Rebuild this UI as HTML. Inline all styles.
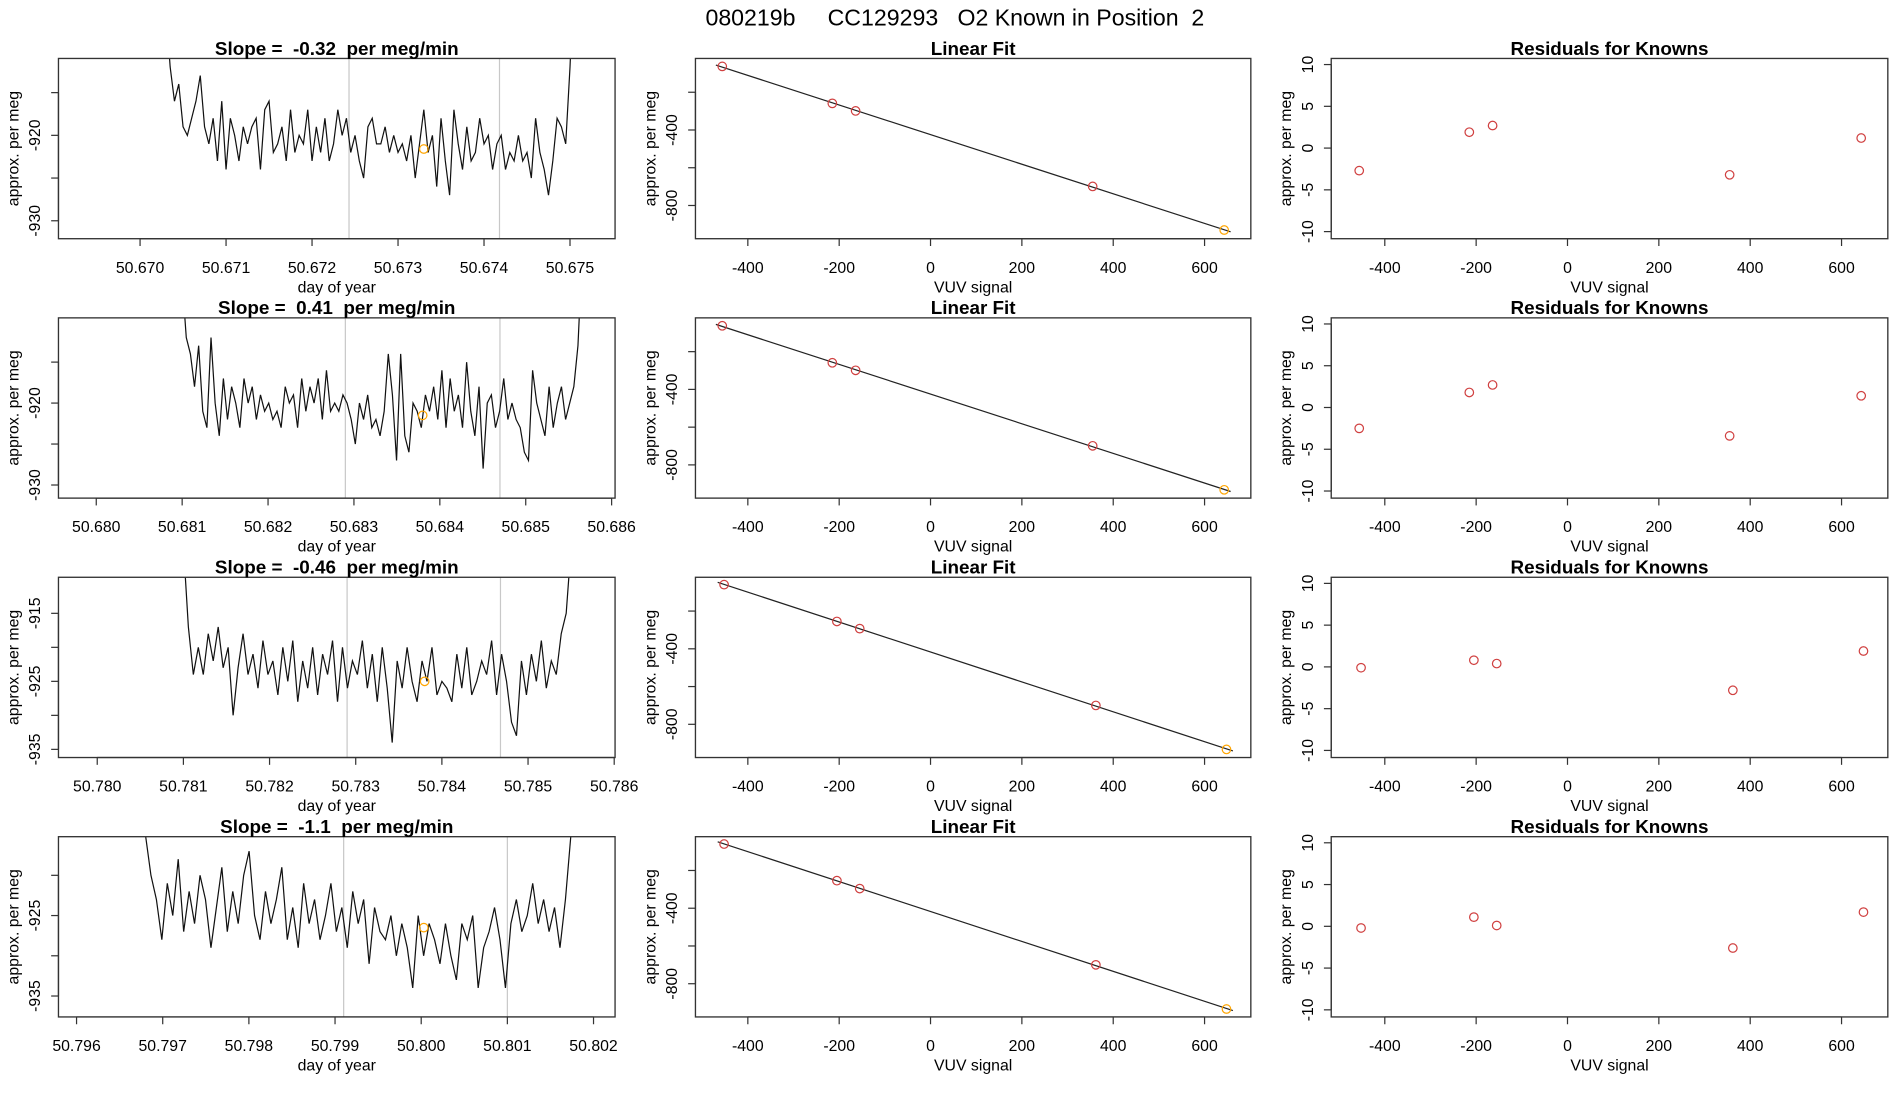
<!DOCTYPE html>
<html><head><meta charset="utf-8"><style>
html,body{margin:0;padding:0;background:#fff;}
svg{display:block;font-family:"Liberation Sans",sans-serif;}
text{white-space:pre;}
</style></head><body>
<svg id="chart" width="1900" height="1100" viewBox="0 0 1560 903.2" preserveAspectRatio="none" xmlns="http://www.w3.org/2000/svg">
<text x="784" y="21" font-size="19" text-anchor="middle" xml:space="preserve">080219b     CC129293   O2 Known in Position  2</text>
<g id="plots"></g>
</svg>
<script>
// ---- data ----
const slopeLabels = ["-0.32", "0.41", "-0.46", "-1.1"];
const tsStart = [50.67030, 50.68100, 50.78100, 50.79680];
const tsStep = [0.00005, 0.000048, 0.0000577, 0.0000633];
const ts1 = [-905,-912,-916,-914,-919,-920,-918,-916,-913,-919,-921,-918,-923,-916,-924,-918,-920,-923,-919,-921,-919,-918,-924,-917,-916,-922,-921,-919,-923,-917,-922,-920,-921,-917,-923,-919,-922,-918,-923,-921,-917,-920,-918,-922,-920,-923,-925,-919,-918,-921,-921,-919,-922,-920,-922,-921,-923,-920,-925,-921,-917,-922,-920,-926,-918,-923,-927,-917,-921,-924,-919,-923,-922,-918,-921,-920,-924,-921,-920,-924,-922,-923,-920,-923,-922,-925,-918,-922,-924,-927,-923,-918,-919,-921,-912,-900];
const ts2 = [-905,-912,-914,-918,-913,-921,-923,-912,-920,-924,-917,-922,-918,-920,-923,-917,-920,-918,-922,-919,-921,-920,-922,-921,-923,-918,-920,-919,-923,-917,-921,-918,-920,-917,-922,-916,-921,-920,-921,-919,-920,-922,-925,-920,-922,-919,-923,-922,-924,-921,-914,-919,-927,-914,-924,-926,-920,-921,-923,-919,-921,-918,-922,-916,-923,-917,-921,-919,-923,-915,-921,-924,-918,-928,-920,-919,-923,-921,-917,-922,-920,-922,-923,-926,-927,-916,-920,-922,-924,-918,-923,-920,-918,-922,-920,-918,-913,-902];
const ts3 = [-905,-917,-924,-920,-924,-918,-922,-917,-923,-920,-930,-923,-918,-924,-921,-926,-919,-924,-922,-927,-920,-925,-919,-928,-922,-926,-920,-927,-921,-924,-919,-928,-920,-926,-922,-924,-919,-926,-921,-928,-920,-926,-934,-922,-926,-920,-925,-928,-922,-925,-920,-927,-925,-926,-928,-921,-926,-920,-927,-925,-922,-924,-919,-927,-921,-925,-931,-933,-922,-927,-921,-925,-919,-926,-922,-924,-918,-915,-905];
const ts4 = [-915,-920,-923,-928,-921,-925,-918,-927,-922,-926,-920,-923,-929,-924,-919,-927,-922,-926,-920,-917,-925,-928,-922,-926,-923,-919,-928,-924,-929,-921,-926,-923,-928,-925,-921,-927,-924,-929,-922,-926,-923,-931,-924,-927,-928,-925,-930,-926,-929,-934,-925,-930,-926,-928,-931,-926,-930,-933,-926,-928,-925,-934,-929,-927,-924,-928,-934,-926,-923,-927,-925,-921,-926,-923,-927,-924,-929,-923,-915,-905];
const tsVLines = [[50.67243, 50.67418], [50.68290, 50.68470], [50.78290, 50.78468], [50.79910, 50.80100]];
const tsMarker = [[50.67330, -921.6], [50.68380, -921.5], [50.78380, -925.0], [50.80003, -926.5]];
const tsXTicks = [
  ["50.670","50.671","50.672","50.673","50.674","50.675"],
  ["50.680","50.681","50.682","50.683","50.684","50.685","50.686"],
  ["50.780","50.781","50.782","50.783","50.784","50.785","50.786"],
  ["50.796","50.797","50.798","50.799","50.800","50.801","50.802"]];
const tsYTicks = [[-930,-925,-920,-915], [-930,-925,-920,-915], [-935,-930,-925,-920,-915], [-935,-930,-925,-920]];
const tsYLabels = [[-930,-920], [-930,-920], [-935,-925,-915], [-935,-925]];
const tsXDom = [[50.669051, 50.675524], [50.67956, 50.68604], [50.77955, 50.78601], [50.79579, 50.80225]];
const tsYDom = [[-932.1, -911.0], [-931.6, -909.6], [-936.2, -909.7], [-937.6, -915.2]];

const knownX = [[-456,-215,-164,355,643], [-456,-215,-164,355,643], [-452,-205,-155,362,648], [-452,-205,-155,362,648]];
const knownY = [[-63,-259,-299,-699,-930], [-63,-259,-299,-699,-932], [-60,-255,-293,-700,-933], [-60,-254,-296,-700,-934]];
const resid = [[-2.7,1.9,2.7,-3.2,1.2], [-2.5,1.8,2.7,-3.4,1.4], [-0.1,0.8,0.4,-2.8,1.9], [-0.2,1.1,0.1,-2.6,1.7]];
const vuvTicks = [-400,-200,0,200,400,600];
const fitYTicks = [-800,-600,-400,-200];
const fitYLabels = [-800,-400];
const resYTicks = [-10,-5,0,5,10];

// ---- drawing ----
const NS = "http://www.w3.org/2000/svg";
const root = document.getElementById("plots");
function mk(tag, attrs, parent) {
  const e = document.createElementNS(NS, tag);
  for (const k in attrs) e.setAttribute(k, attrs[k]);
  (parent || root).appendChild(e);
  return e;
}
const colX = [[48,505],[571,1027],[1093,1550]];
const rowH = 148, rowTop = 48, rowGap = 213;

function frame(g, x0, x1, y0, y1) {
  const r = mk("rect", {x:x0, y:y0, width:x1-x0, height:y1-y0, fill:"none", stroke:"#333", "stroke-width":1.1}, g);
  
  
}
function title(g, cx, y, txt) {
  const t = mk("text", {x:cx, y:y, "font-size":15.5, "font-weight":"bold", "text-anchor":"middle"}, g);
  
  
  t.textContent = txt;
}
function xAxis(g, sx, vals, labels, yb, label, cx) {
  const ax = mk("g", {}, g);
  
  
  mk("line", {x1:sx(vals[0]), x2:sx(vals[vals.length-1]), y1:yb, y2:yb, stroke:"#333"}, ax);
  vals.forEach((v,i) => {
    mk("line", {x1:sx(v), x2:sx(v), y1:yb, y2:yb+6, stroke:"#333"}, ax);
    const t = mk("text", {x:sx(v), y:yb+28, "font-size":13, "text-anchor":"middle"}, ax);
    
    
    t.textContent = labels[i];
  });
  const l = mk("text", {x:cx, y:yb+44, "font-size":13, "text-anchor":"middle"}, ax);
  
  
  l.textContent = label;
}
function yAxis(g, sy, vals, labels, xl, label, cy) {
  const ax = mk("g", {}, g);
  
  
  mk("line", {x1:xl, x2:xl, y1:sy(vals[0]), y2:sy(vals[vals.length-1]), stroke:"#333"}, ax);
  vals.forEach(v => {
    mk("line", {x1:xl-6, x2:xl, y1:sy(v), y2:sy(v), stroke:"#333"}, ax);
  });
  labels.forEach(v => {
    const t = mk("text", {x:0, y:0, "font-size":13, "text-anchor":"middle", transform:`translate(${xl-15},${sy(v)}) rotate(-90)`}, ax);
    
    
    t.textContent = v;
  });
  const l = mk("text", {x:0, y:0, "font-size":13, "text-anchor":"middle", transform:`translate(${xl-33},${cy}) rotate(-90)`}, ax);
  
  
  l.textContent = label;
}
function lin(d0, d1, p0, p1) { return v => p0 + (v - d0) / (d1 - d0) * (p1 - p0); }

const series = [ts1, ts2, ts3, ts4];
for (let r = 0; r < 4; r++) {
  const y0 = rowTop + r * rowGap, y1 = y0 + rowH;
  {
    const g = mk("g", {});
    
    
    const [x0, x1] = colX[0];
    const sx = lin(tsXDom[r][0], tsXDom[r][1], x0, x1);
    const sy = lin(tsYDom[r][0], tsYDom[r][1], y1, y0);
    const cid = "clip" + r;
    const cp = mk("clipPath", {id:cid}, g);
    mk("rect", {x:x0, y:y0, width:x1-x0, height:rowH}, cp);
    tsVLines[r].forEach(v => {
      const l = mk("line", {x1:sx(v), x2:sx(v), y1:y0, y2:y1, stroke:"#c8c8c8", "stroke-width":1}, g);
      
      
    });
    const pts = series[r].map((v, i) => sx(tsStart[r] + i * tsStep[r]).toFixed(2) + "," + sy(v).toFixed(2)).join(" ");
    const pl = mk("polyline", {points:pts, fill:"none", stroke:"#111", "stroke-width":1, "clip-path":`url(#${cid})`}, g);
    
    
    const c = mk("circle", {cx:sx(tsMarker[r][0]), cy:sy(tsMarker[r][1]), r:3.5, fill:"none", stroke:"orange", "stroke-width":1}, g);
    
    
    frame(g, x0, x1, y0, y1);
    title(g, (x0+x1)/2, y0 - 3, "Slope =  " + slopeLabels[r] + "  per meg/min");
    const tv = tsXTicks[r].map(Number);
    xAxis(g, sx, tv, tsXTicks[r], y1, "day of year", (x0+x1)/2);
    yAxis(g, sy, tsYTicks[r], tsYLabels[r], x0, "approx. per meg", (y0+y1)/2);
  }
  {
    const g = mk("g", {});
    
    
    const [x0, x1] = colX[1];
    const sx = lin(-514.7, 701.3, x0, x1);
    const sy = lin(-976, -21, y1, y0);
    const xs = knownX[r], ys = knownY[r], n = xs.length;
    const mx = xs.reduce((a,b)=>a+b,0)/n, my = ys.reduce((a,b)=>a+b,0)/n;
    let sxy = 0, sxx = 0;
    for (let i=0;i<n;i++){ sxy += (xs[i]-mx)*(ys[i]-my); sxx += (xs[i]-mx)**2; }
    const b = sxy/sxx, a = my - b*mx;
    const xa = xs[0] - 14, xb = xs[n-1] + 14;
    const fl = mk("line", {x1:sx(xa), y1:sy(a+b*xa), x2:sx(xb), y2:sy(a+b*xb), stroke:"#222", "stroke-width":1}, g);
    
    
    for (let i=0;i<n;i++){
      const c = mk("circle", {cx:sx(xs[i]), cy:sy(ys[i]), r:3.5, fill:"none", stroke: i===n-1 ? "orange" : "#d04040", "stroke-width":1}, g);
      
      
    }
    frame(g, x0, x1, y0, y1);
    title(g, (x0+x1)/2, y0 - 3, "Linear Fit");
    xAxis(g, sx, vuvTicks, vuvTicks.map(String), y1, "VUV signal", (x0+x1)/2);
    yAxis(g, sy, fitYTicks, fitYLabels, x0, "approx. per meg", (y0+y1)/2);
  }
  {
    const g = mk("g", {});
    
    
    const [x0, x1] = colX[2];
    const sx = lin(-517.3, 701.3, x0, x1);
    const sy = lin(-10.85, 10.73, y1, y0);
    resid[r].forEach((v, i) => {
      const c = mk("circle", {cx:sx(knownX[r][i]), cy:sy(v), r:3.5, fill:"none", stroke:"#d04040", "stroke-width":1}, g);
      
      
    });
    frame(g, x0, x1, y0, y1);
    title(g, (x0+x1)/2, y0 - 3, "Residuals for Knowns");
    xAxis(g, sx, vuvTicks, vuvTicks.map(String), y1, "VUV signal", (x0+x1)/2);
    yAxis(g, sy, resYTicks, resYTicks, x0, "approx. per meg", (y0+y1)/2);
  }
}
</script>
</body></html>
